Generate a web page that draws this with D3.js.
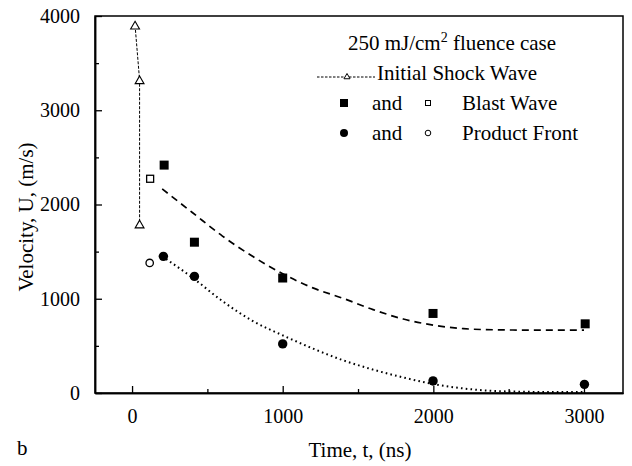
<!DOCTYPE html>
<html>
<head>
<meta charset="utf-8">
<script src="https://cdn.jsdelivr.net/npm/d3@7"></script>
<style>
  body { margin: 0; background: #fff; }
  text { font-family: "Liberation Serif", "Times New Roman", serif; fill: #000; }
</style>
</head>
<body>
<svg id="chart" width="632" height="466"></svg>
<script>
// initial shock wave (open triangles joined by a fine dashed line)
var shockT = [20, 50, 50];
var shockV = [3900, 3320, 1790];

// blast wave: filled squares, one open square
var blastT = [213, 414, 1000, 1998, 3008];
var blastV = [2418, 1600, 1220, 844, 734];
var blastOpenT = [120];
var blastOpenV = [2273];

// product front: filled circles, one open circle
var frontT = [208, 414, 1000, 1998, 3003];
var frontV = [1450, 1237, 521, 128, 92];
var frontOpenT = [117];
var frontOpenV = [1380];

// fitted curves
var blastFitT = [200, 400, 600, 800, 1000, 1200, 1400, 1600, 1800, 2000, 2200, 2400, 2600, 2800, 3000];
var blastFitV = [2165, 1915, 1665, 1450, 1265, 1115, 1005, 885, 785, 720, 683, 671, 668, 668, 668];
var frontFitT = [200, 400, 600, 800, 1000, 1200, 1400, 1600, 1800, 2000, 2200, 2400, 2600, 2800, 3000];
var frontFitV = [1450, 1225, 975, 765, 612, 472, 348, 248, 165, 95, 48, 22, 13, 10, 10];

var xTicks = [0, 1000, 2000, 3000];
var xMinor = [500, 1500, 2500];
var yTicks = [0, 1000, 2000, 3000, 4000];
var yMinor = [500, 1500, 2500, 3500];

var svg = d3.select("#chart");
var plotL = 95, plotR = 623, plotT = 16, plotB = 393;

var x = d3.scaleLinear().domain([-246, 3259]).range([plotL, plotR]);
var y = d3.scaleLinear().domain([0, 4000]).range([plotB, plotT]);

function zip(a, b) {
  return a.map(function(d, i) { return [d, b[i]]; });
}

// frame
svg.append("rect")
  .attr("x", plotL).attr("y", plotT)
  .attr("width", plotR - plotL).attr("height", plotB - plotT)
  .attr("fill", "none").attr("stroke", "#000").attr("stroke-width", 1.5);

// axes, ticks inward
svg.append("g").attr("transform", "translate(0," + plotB + ")")
  .call(d3.axisBottom(x).tickValues(xTicks).tickSizeInner(-7).tickSizeOuter(0).tickPadding(16).tickFormat(d3.format("d")));
svg.append("g").attr("transform", "translate(0," + plotB + ")")
  .call(d3.axisBottom(x).tickValues(xMinor).tickSizeInner(-4).tickSizeOuter(0).tickFormat(""));
svg.append("g").attr("transform", "translate(" + plotL + ",0)")
  .call(d3.axisLeft(y).tickValues(yTicks).tickSizeInner(-7).tickSizeOuter(0).tickPadding(15).tickFormat(d3.format("d")));
svg.append("g").attr("transform", "translate(" + plotL + ",0)")
  .call(d3.axisLeft(y).tickValues(yMinor).tickSizeInner(-4).tickSizeOuter(0).tickFormat(""));

svg.selectAll(".domain").attr("stroke", "#000").attr("stroke-width", 1.5);
svg.selectAll(".tick line").attr("stroke", "#000").attr("stroke-width", 1.3);
svg.selectAll(".tick text").attr("font-size", 20).attr("font-family", "Liberation Serif");

// axis titles
svg.append("text").attr("x", 360).attr("y", 457)
  .attr("text-anchor", "middle").attr("font-size", 21).text("Time, t, (ns)");
svg.append("text").attr("transform", "translate(33,217) rotate(-90)")
  .attr("text-anchor", "middle").attr("font-size", 21).text("Velocity, U, (m/s)");
svg.append("text").attr("x", 17).attr("y", 455).attr("font-size", 21).text("b");

var line = d3.line().x(function(d) { return x(d[0]); }).y(function(d) { return y(d[1]); });
var smooth = d3.line().curve(d3.curveMonotoneX)
  .x(function(d) { return x(d[0]); }).y(function(d) { return y(d[1]); });

// fits
svg.append("path").attr("d", smooth(zip(blastFitT, blastFitV)))
  .attr("fill", "none").attr("stroke", "#000").attr("stroke-width", 1.7)
  .attr("stroke-dasharray", "7,5");
svg.append("path").attr("d", smooth(zip(frontFitT, frontFitV)))
  .attr("fill", "none").attr("stroke", "#000").attr("stroke-width", 2)
  .attr("stroke-dasharray", "1.6,3.2");

// shock wave line
svg.append("path").attr("d", line(zip(shockT, shockV)))
  .attr("fill", "none").attr("stroke", "#000").attr("stroke-width", 1)
  .attr("stroke-dasharray", "3,1.5");

var tri = d3.symbol().type(d3.symbolTriangle).size(34);
svg.append("g").selectAll("path").data(zip(shockT, shockV)).enter().append("path")
  .attr("transform", function(d) { return "translate(" + x(d[0]) + "," + (y(d[1]) + 1) + ")"; })
  .attr("d", tri).attr("fill", "#fff").attr("stroke", "#000").attr("stroke-width", 1.1);

// squares
svg.append("g").selectAll("rect").data(zip(blastT, blastV)).enter().append("rect")
  .attr("x", function(d) { return x(d[0]) - 4.5; })
  .attr("y", function(d) { return y(d[1]) - 4.5; })
  .attr("width", 9).attr("height", 9).attr("fill", "#000");
svg.append("g").selectAll("rect").data(zip(blastOpenT, blastOpenV)).enter().append("rect")
  .attr("x", function(d) { return x(d[0]) - 3.5; })
  .attr("y", function(d) { return y(d[1]) - 3.5; })
  .attr("width", 7).attr("height", 7).attr("fill", "#fff")
  .attr("stroke", "#000").attr("stroke-width", 1.3);

// circles
svg.append("g").selectAll("circle").data(zip(frontT, frontV)).enter().append("circle")
  .attr("cx", function(d) { return x(d[0]); })
  .attr("cy", function(d) { return y(d[1]); })
  .attr("r", 4.7).attr("fill", "#000");
svg.append("g").selectAll("circle").data(zip(frontOpenT, frontOpenV)).enter().append("circle")
  .attr("cx", function(d) { return x(d[0]); })
  .attr("cy", function(d) { return y(d[1]); })
  .attr("r", 3.7).attr("fill", "#fff").attr("stroke", "#000").attr("stroke-width", 1.3);

// legend
var lg = svg.append("g");
var title = lg.append("text").attr("x", 452).attr("y", 50)
  .attr("text-anchor", "middle").attr("font-size", 21);
title.append("tspan").text("250 mJ/cm");
title.append("tspan").attr("dy", -8).attr("font-size", 14).text("2");
title.append("tspan").attr("dy", 8).text(" fluence case");

lg.append("line").attr("x1", 317).attr("x2", 375).attr("y1", 77).attr("y2", 77)
  .attr("stroke", "#000").attr("stroke-width", 1).attr("stroke-dasharray", "2.5,1.5");
lg.append("path").attr("transform", "translate(347,77)")
  .attr("d", d3.symbol().type(d3.symbolTriangle).size(16))
  .attr("fill", "#fff").attr("stroke", "#000").attr("stroke-width", 1);
lg.append("text").attr("x", 377).attr("y", 80).attr("font-size", 21).text("Initial Shock Wave");

lg.append("rect").attr("x", 340).attr("y", 99).attr("width", 8).attr("height", 8).attr("fill", "#000");
lg.append("text").attr("x", 372).attr("y", 110).attr("font-size", 21).text("and");
lg.append("rect").attr("x", 425.5).attr("y", 100.5).attr("width", 5).attr("height", 5)
  .attr("fill", "#fff").attr("stroke", "#000").attr("stroke-width", 1);
lg.append("text").attr("x", 462).attr("y", 110).attr("font-size", 21).text("Blast Wave");

lg.append("circle").attr("cx", 344).attr("cy", 133).attr("r", 4).attr("fill", "#000");
lg.append("text").attr("x", 372).attr("y", 140).attr("font-size", 21).text("and");
lg.append("circle").attr("cx", 428).attr("cy", 133).attr("r", 2.8)
  .attr("fill", "#fff").attr("stroke", "#000").attr("stroke-width", 1);
lg.append("text").attr("x", 462).attr("y", 140).attr("font-size", 21).text("Product Front");
</script>
</body>
</html>
